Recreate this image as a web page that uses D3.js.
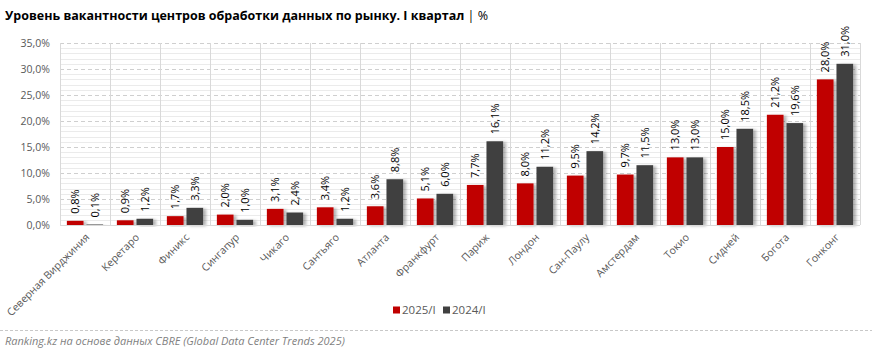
<!DOCTYPE html>
<html><head><meta charset="utf-8">
<script src="https://cdn.jsdelivr.net/npm/d3@7"></script>
<style>
html,body{margin:0;padding:0;background:#fff;}
svg{display:block;}
</style></head>
<body>
<svg id="c" width="872" height="356"></svg>
<script>
const categories = ["Северная Вирджиния","Керетаро","Финикс","Сингапур","Чикаго","Сантьяго","Атланта","Франкфурт","Париж","Лондон","Сан-Паулу","Амстердам","Токио","Сидней","Богота","Гонконг"];
const series = ["2025/I","2024/I"];
const values2025 = [0.8,0.9,1.7,2.0,3.1,3.4,3.6,5.1,7.7,8.0,9.5,9.7,13.0,15.0,21.2,28.0];
const values2024 = [0.1,1.2,3.3,1.0,2.4,1.2,8.8,6.0,16.1,11.2,14.2,11.5,13.0,18.5,19.6,31.0];
const yTicks = [0,5,10,15,20,25,30,35];
const colors = {"2025/I":"#C00000","2024/I":"#404040"};

const svg = d3.select("#c");
const font = "'Open Sans', sans-serif";
const L=60,R=860,T=43,B=225;

const defs = svg.append("defs");
const f = defs.append("filter").attr("id","sh").attr("x","-20%").attr("y","-20%").attr("width","160%").attr("height","140%");
f.append("feDropShadow").attr("dx",3).attr("dy",1).attr("stdDeviation",1.8).attr("flood-color","#000").attr("flood-opacity",0.3);

const x = d3.scaleBand().domain(categories).range([L,R]).padding(0);
const xs = d3.scaleBand().domain(series).range([0,x.bandwidth()]).paddingInner(0.15).paddingOuter(0.35);
const y = d3.scaleLinear().domain([0,35]).range([B,T]);

// minor grid
const minor = d3.range(0,36).filter(v=>v%5!==0);
svg.append("g").selectAll("line").data(minor).join("line")
  .attr("x1",L).attr("x2",R).attr("y1",d=>Math.round(y(d))+0.5).attr("y2",d=>Math.round(y(d))+0.5)
  .attr("stroke","#ebebeb").attr("stroke-width",1);
// major dashed grid
svg.append("g").selectAll("line").data(yTicks.filter(v=>v>0)).join("line")
  .attr("x1",L).attr("x2",R).attr("y1",d=>Math.round(y(d))+0.5).attr("y2",d=>Math.round(y(d))+0.5)
  .attr("stroke","#cfcfcf").attr("stroke-width",1).attr("stroke-dasharray","4,3");
// vertical category separators
const seps = categories.map(c=>x(c)).concat([R]);
svg.append("g").selectAll("line").data(seps).join("line")
  .attr("x1",d=>Math.round(d)+0.5).attr("x2",d=>Math.round(d)+0.5).attr("y1",T).attr("y2",B)
  .attr("stroke","#d9d9d9").attr("stroke-width",1);

// y axis
const yAxis = d3.axisLeft(y).tickValues(yTicks).tickSize(0).tickPadding(10)
  .tickFormat(d=>d.toFixed(1).replace(".",",")+"%");
const ya = svg.append("g").attr("transform",`translate(${L},0)`).call(yAxis);
ya.select(".domain").remove();
ya.selectAll("text").attr("font-family",font).attr("font-size",10.5).attr("fill","#595959");

// bars
const rows = categories.map((c,i)=>({c, vals:[{s:"2025/I",v:values2025[i]},{s:"2024/I",v:values2024[i]}]}));
const g = svg.append("g");
const grp = g.selectAll("g").data(rows).join("g").attr("transform",d=>`translate(${x(d.c)},0)`);
grp.selectAll("rect").data(d=>d.vals).join("rect")
  .attr("x",d=>xs(d.s)).attr("width",xs.bandwidth())
  .attr("y",d=>y(d.v)).attr("height",d=>B-y(d.v))
  .attr("fill",d=>colors[d.s]).attr("filter","url(#sh)");
grp.selectAll("text").data(d=>d.vals).join("text")
  .attr("transform",d=>`translate(${xs(d.s)+xs.bandwidth()/2+4},${y(d.v)-7}) rotate(-90)`)
  .attr("font-family",font).attr("font-size",11).attr("fill","#000")
  .text(d=>d.v.toFixed(1).replace(".",",")+"%");

// x axis line
svg.append("line").attr("x1",L).attr("x2",R).attr("y1",B+0.5).attr("y2",B+0.5).attr("stroke","#d9d9d9");

// x axis labels
const xAxis = d3.axisBottom(x).tickSize(0).tickPadding(0);
const xa = svg.append("g").attr("transform",`translate(0,${B})`).call(xAxis);
xa.select(".domain").remove();
xa.selectAll("text")
  .attr("font-family",font).attr("font-size",10.5).attr("fill","#595959")
  .attr("text-anchor","end").attr("dy",0).attr("y",0)
  .attr("transform","translate(5,13) rotate(-45)");

// legend
const leg = svg.append("g").attr("transform","translate(393,310)");
const li = leg.selectAll("g").data(series).join("g").attr("transform",(d,i)=>`translate(${i*50},0)`);
li.append("rect").attr("x",0).attr("y",-3.5).attr("width",7).attr("height",7).attr("fill",d=>colors[d]);
li.append("text").attr("x",9).attr("y",4).attr("font-family",font).attr("font-size",11.5).attr("fill","#595959").text(d=>d);

// title
const t = svg.append("text").attr("x",5).attr("y",20).attr("font-family",font).attr("font-size",12.5).attr("fill","#000");
t.append("tspan").attr("font-weight","bold").text("Уровень вакантности центров обработки данных по рынку. I квартал");
t.append("tspan").attr("fill","#000").text(" | %");

// separator & footnote
svg.append("line").attr("x1",0).attr("x2",872).attr("y1",330.5).attr("y2",330.5).attr("stroke","#c8c8c8").attr("stroke-dasharray","3,2");
svg.append("text").attr("x",5).attr("y",345).attr("font-family",font).attr("font-size",11).attr("font-style","italic").attr("fill","#7f7f7f")
  .text("Ranking.kz на основе данных CBRE (Global Data Center Trends 2025)");
</script>
</body></html>
